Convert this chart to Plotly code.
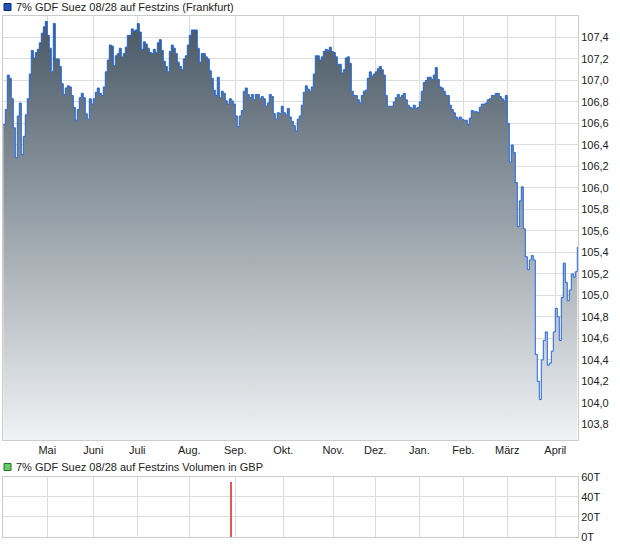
import plotly.graph_objects as go

# ---- data ----
price = [
    106.59, 106.73, 107.05, 107.02, 106.83, 106.56, 106.28, 106.67, 106.79, 106.31,
    106.48, 106.68, 106.83, 107.06, 107.28, 107.21, 107.26, 107.29, 107.35, 107.44,
    107.50, 107.55, 107.42, 107.30, 107.08, 107.53, 107.20, 107.20, 107.13, 106.97,
    106.87, 106.93, 106.95, 106.94, 106.86, 106.75, 106.63, 106.73, 106.84, 106.88,
    106.84, 106.69, 106.64, 106.83, 106.78, 106.83, 106.89, 106.93, 106.88, 106.86,
    106.94, 107.08, 107.19, 107.33, 107.32, 107.14, 107.23,
    107.25, 107.30, 107.22, 107.25, 107.31, 107.42, 107.42, 107.48, 107.46, 107.47,
    107.53, 107.45, 107.29, 107.36, 107.34, 107.30, 107.26, 107.25, 107.29, 107.26,
    107.35, 107.38, 107.28, 107.18, 107.13, 107.08, 107.27, 107.33, 107.30, 107.25,
    107.17, 107.13, 107.10, 107.20, 107.23, 107.33, 107.42, 107.47, 107.47, 107.47,
    107.30, 107.17, 107.25, 107.25, 107.22, 107.20, 107.09, 107.02, 106.91, 106.86,
    107.03, 106.84, 106.90, 106.88, 106.81, 106.78, 106.83, 106.81,
    106.78, 106.67, 106.57, 106.67, 106.72, 106.90, 106.93, 106.87, 106.84, 106.87,
    106.82, 106.87, 106.87, 106.83, 106.85, 106.83, 106.76, 106.79, 106.87, 106.85,
    106.69, 106.64, 106.70, 106.69, 106.76, 106.70, 106.68, 106.74, 106.66, 106.62,
    106.58, 106.53, 106.64, 106.67, 106.77, 106.89, 106.95, 106.92, 106.90, 106.94,
    107.06, 107.23, 107.23, 107.19, 107.22, 107.27, 107.29, 107.28, 107.31, 107.27,
    107.26, 107.22, 107.15, 107.15, 107.07, 107.10, 107.21, 107.22,
    107.16, 106.90, 106.86, 106.86, 106.82, 106.79, 106.86, 106.90, 106.91, 107.02,
    107.08, 107.04, 107.06, 107.08, 107.11, 107.13, 107.10, 107.05, 106.86, 106.76,
    106.76, 106.76, 106.80, 106.84, 106.87, 106.84, 106.86, 106.88, 106.82, 106.77,
    106.75, 106.74, 106.77, 106.74, 106.75, 106.80, 106.90, 106.98, 107.00, 107.03,
    107.03, 107.01, 107.05, 107.12, 107.01, 106.94, 106.93, 106.90, 106.86, 106.86,
    106.77, 106.73, 106.70, 106.66, 106.64, 106.66, 106.64, 106.63,
    106.63, 106.59, 106.65, 106.72, 106.71, 106.71, 106.70, 106.75, 106.78, 106.78,
    106.79, 106.82, 106.83, 106.86, 106.86, 106.88, 106.88, 106.85, 106.83, 106.81,
    106.86, 106.60, 106.24, 106.40, 106.33, 106.05, 105.64, 105.88, 106.01, 105.62,
    105.36, 105.24, 105.33, 105.37, 105.33, 104.45, 104.20, 104.03, 104.40, 104.58,
    104.66, 104.35, 104.37, 104.48, 104.66, 104.88, 104.80, 104.58, 104.98, 105.30,
    105.12, 104.95, 105.05, 105.20, 105.17, 105.22, 105.45,
]
point_idx = list(range(len(price)))

month_labels = ["Mai", "Juni", "Juli", "Aug.", "Sep.", "Okt.", "Nov.", "Dez.",
                "Jan.", "Feb.", "März", "April"]
month_start_idx = [22, 45, 67, 93, 116, 140, 165, 186, 208, 230, 252, 276]

price_ticks = [103.8, 104.0, 104.2, 104.4, 104.6, 104.8, 105.0, 105.2, 105.4,
               105.6, 105.8, 106.0, 106.2, 106.4, 106.6, 106.8, 107.0, 107.2, 107.4]
price_range = [103.654, 107.6]

volume_idx = [114]
volume_val = [55000]
volume_ticks = [0, 20000, 40000, 60000]
volume_tick_labels = ["0T", "20T", "40T", "60T"]

title_price = "7% GDF Suez 08/28 auf Festzins (Frankfurt)"
title_volume = "7% GDF Suez 08/28 auf Festzins Volumen in GBP"

# ---- figure ----
GRID = "#dddddd"
BORDER = "#cccccc"
x_range = [-0.15, 287.35]

fig = go.Figure()
fig.add_trace(go.Scatter(
    x=point_idx, y=price, mode="lines",
    line=dict(color="#1f66e8", width=1, shape="hv"),
    fill="tozeroy",
    fillgradient=dict(type="vertical",
                      colorscale=[[0, "#f0f2f4"], [1, "#465663"]],
                      start=price_range[0], stop=price_range[1]),
    hoverinfo="skip", xaxis="x", yaxis="y",
))
fig.add_trace(go.Bar(
    x=volume_idx, y=volume_val, width=0.4,
    marker=dict(color="#e05a5a", line=dict(width=0)),
    hoverinfo="skip", xaxis="x2", yaxis="y2",
))

axis_common = dict(showgrid=True, gridcolor=GRID, gridwidth=1, zeroline=False,
                   showline=True, mirror=True, linecolor=BORDER, linewidth=1,
                   ticks="", fixedrange=True, automargin=False)

fig.update_layout(
    width=620, height=546,
    margin=dict(l=3, r=42, t=16, b=9),
    paper_bgcolor="white", plot_bgcolor="white",
    showlegend=False, separators=",.",
    font=dict(family="Liberation Sans, Arial, sans-serif", size=11, color="#222222"),
    xaxis=dict(domain=[0, 1], range=x_range, tickvals=month_start_idx,
               ticktext=month_labels, anchor="y", **axis_common),
    yaxis=dict(domain=[0.1862, 1], range=price_range, side="right",
               tickvals=price_ticks, tickformat=".1f", anchor="x", **axis_common),
    xaxis2=dict(domain=[0, 1], range=x_range, tickvals=month_start_idx,
                showticklabels=False, anchor="y2", **axis_common),
    yaxis2=dict(domain=[0, 0.1152], range=[0, 60000], side="right",
                tickvals=volume_ticks, ticktext=volume_tick_labels, anchor="x2",
                **axis_common),
    bargap=0,
)

W, H = 575.0, 521.0
def px_x(p):
    return (p - 3) / W
def px_y(p):
    return (537 - p) / H

shapes = [
    dict(type="rect", xref="paper", yref="paper", x0=px_x(4), x1=px_x(11),
         y0=px_y(10.5), y1=px_y(3.5), fillcolor="#1d55b8",
         line=dict(color="#0c2a66", width=1)),
    dict(type="rect", xref="paper", yref="paper", x0=px_x(4), x1=px_x(11),
         y0=px_y(470.5), y1=px_y(463.5), fillcolor="#66cc66",
         line=dict(color="#2b6b2b", width=1)),
]
annotations = [
    dict(text=title_price, xref="paper", yref="paper", x=px_x(14), y=px_y(7),
         xanchor="left", yanchor="middle", showarrow=False,
         font=dict(size=11, color="#222222")),
    dict(text=title_volume, xref="paper", yref="paper", x=px_x(14), y=px_y(467),
         xanchor="left", yanchor="middle", showarrow=False,
         font=dict(size=11, color="#222222")),
]
fig.update_layout(shapes=shapes, annotations=annotations)

fig.write_html(
    "out.html",
    config={"displayModeBar": False},
    post_script="document.body.style.margin='0';document.body.style.overflow='hidden';",
)
